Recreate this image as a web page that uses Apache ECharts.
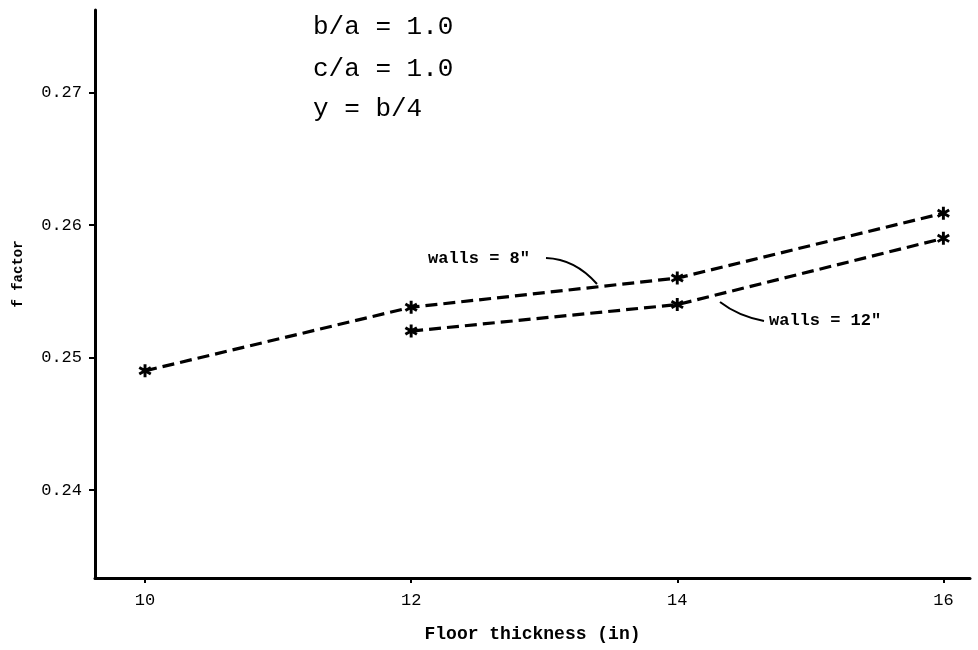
<!DOCTYPE html>
<html><head><meta charset="utf-8">
<script src="https://cdn.jsdelivr.net/npm/echarts@6/dist/echarts.min.js"></script>
<style>html,body{margin:0;padding:0;background:#fff}#c{width:978px;height:650px}</style>
</head><body><div id="c"></div>
<script>
const floorThickness8 = [10, 12, 14, 16];
const fWalls8 = [0.249, 0.2538, 0.256, 0.2609];
const floorThickness12 = [12, 14, 16];
const fWalls12 = [0.252, 0.254, 0.259];
const xTicks = [10, 12, 14, 16];
const yTicks = [0.24, 0.25, 0.26, 0.27];

const FONT = '"Liberation Mono", "DejaVu Sans Mono", monospace';
const star = 'path://M-2.2,-10L2.2,-10L2.2,10L-2.2,10Z' +
  'M-9.76,-3.10L-7.56,-6.91L9.76,3.10L7.56,6.91Z' +
  'M7.56,-6.91L9.76,-3.10L-7.56,6.91L-9.76,3.10Z';

const chart = echarts.init(document.getElementById('c'), null, {renderer: 'canvas'});
const lineStyle = {color: '#000', width: 3.2, type: [12, 6]};
chart.setOption({
  animation: false,
  backgroundColor: '#fff',
  grid: {left: 95, top: 10, width: 875, height: 568, containLabel: false},
  xAxis: {
    type: 'value', min: 9.624, max: 16.2,
    name: 'Floor thickness (in)', nameLocation: 'middle', nameGap: 47,
    nameTextStyle: {fontFamily: FONT, fontSize: 18, color: '#000', fontWeight: 'bold'},
    axisLine: {show: true, lineStyle: {color: '#000', width: 3}},
    axisTick: {show: true, customValues: xTicks, length: 5, lineStyle: {color: '#000', width: 2}},
    axisLabel: {customValues: xTicks, fontFamily: FONT, fontSize: 17, color: '#000', margin: 14,
      formatter: v => String(v)},
    splitLine: {show: false}
  },
  yAxis: {
    type: 'value', min: 0.23336, max: 0.27624,
    axisLine: {show: true, lineStyle: {color: '#000', width: 3}},
    axisTick: {show: true, customValues: yTicks, length: 6, lineStyle: {color: '#000', width: 2}},
    axisLabel: {customValues: yTicks, fontFamily: FONT, fontSize: 17, color: '#000', margin: 13,
      formatter: v => v.toFixed(2)},
    splitLine: {show: false}
  },
  series: [
    {type: 'line', name: 'walls = 8"', data: floorThickness8.map((x, i) => [x, fWalls8[i]]),
     lineStyle, symbol: star, symbolSize: 13, itemStyle: {color: '#000'}},
    {type: 'line', name: 'walls = 12"', data: floorThickness12.map((x, i) => [x, fWalls12[i]]),
     lineStyle, symbol: star, symbolSize: 13, itemStyle: {color: '#000'}}
  ],
  graphic: [
    {type: 'text', x: 18, y: 274, rotation: Math.PI / 2,
     style: {text: 'f factor', font: 'bold 14px ' + FONT, fill: '#000', align: 'center', verticalAlign: 'middle'}},
    {type: 'text', left: 313, top: 14, style: {text: 'b/a = 1.0', font: '26px ' + FONT, fill: '#000'}},
    {type: 'text', left: 313, top: 56, style: {text: 'c/a = 1.0', font: '26px ' + FONT, fill: '#000'}},
    {type: 'text', left: 313, top: 96, style: {text: 'y = b/4', font: '26px ' + FONT, fill: '#000'}},
    {type: 'text', left: 428, top: 250, style: {text: 'walls = 8"', font: 'bold 17px ' + FONT, fill: '#000'}},
    {type: 'text', left: 769, top: 312, style: {text: 'walls = 12"', font: 'bold 17px ' + FONT, fill: '#000'}},
    {type: 'bezierCurve', shape: {x1: 546, y1: 258, cpx1: 575, cpy1: 259, x2: 597, y2: 284},
     style: {stroke: '#000', lineWidth: 2, fill: null}},
    {type: 'bezierCurve', shape: {x1: 764, y1: 321, cpx1: 738, cpy1: 316, x2: 720, y2: 302},
     style: {stroke: '#000', lineWidth: 2, fill: null}}
  ]
});
</script></body></html>
